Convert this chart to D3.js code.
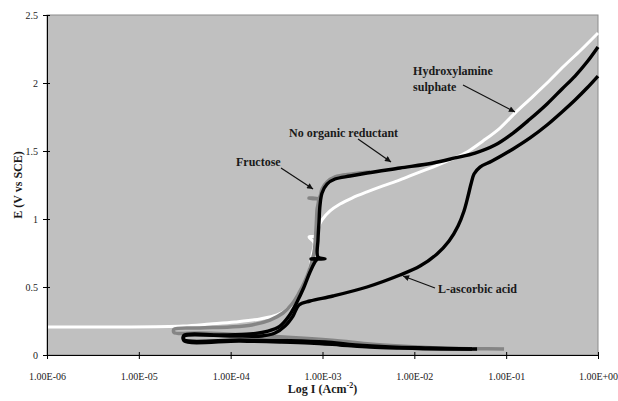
<!DOCTYPE html>
<html>
<head>
<meta charset="utf-8">
<script src="https://cdn.jsdelivr.net/npm/d3@7"></script>
<style>
  html, body { margin: 0; padding: 0; background: #fff; }
  svg { display: block; }
  text { font-family: "Liberation Serif", "Times New Roman", serif; }
</style>
</head>
<body>
<svg id="chart" width="618" height="401"></svg>
<script>
// Polarisation curves: E (V vs SCE) against log10 of current density (A cm^-2)
// Each point is [log10 I, E]; sweep runs from the cathodic end through E_corr to the anodic end.

const xTicks = [-6, -5, -4, -3, -2, -1, 0];
const xTickLabels = ["1.00E-06", "1.00E-05", "1.00E-04", "1.00E-03", "1.00E-02", "1.00E-01", "1.00E+00"];
const yTicks = [0, 0.5, 1, 1.5, 2, 2.5];
const yTickLabels = ["0", "0.5", "1", "1.5", "2", "2.5"];

const hydroxylamine = [
  [-6.000, 0.206], [-5.205, 0.206], [-4.519, 0.213], [-4.225, 0.228], [-3.953, 0.243],
  [-3.680, 0.265], [-3.495, 0.294], [-3.365, 0.346], [-3.278, 0.412], [-3.201, 0.500],
  [-3.147, 0.610], [-3.114, 0.735], [-3.092, 0.824], [-3.147, 0.868], [-3.082, 0.875],
  [-3.049, 0.934], [-3.005, 0.993], [-2.918, 1.059], [-2.809, 1.110], [-2.679, 1.154],
  [-2.515, 1.199], [-2.341, 1.243], [-2.156, 1.287], [-1.971, 1.338], [-1.797, 1.382],
  [-1.611, 1.434], [-1.426, 1.493], [-1.252, 1.574], [-1.067, 1.669], [-0.904, 1.779],
  [-0.740, 1.882], [-0.555, 2.000], [-0.370, 2.125], [-0.185, 2.243], [0.000, 2.368]
];

const fructose = [
  [-1.023, 0.044], [-1.317, 0.046], [-1.720, 0.051], [-2.156, 0.066], [-2.483, 0.081],
  [-2.809, 0.103], [-3.245, 0.125], [-3.789, 0.147], [-4.334, 0.162], [-4.617, 0.165],
  [-4.617, 0.189], [-4.334, 0.199], [-4.007, 0.206], [-3.768, 0.221], [-3.572, 0.257],
  [-3.430, 0.309], [-3.332, 0.375], [-3.256, 0.456], [-3.190, 0.544], [-3.136, 0.640],
  [-3.092, 0.757], [-3.071, 0.919], [-3.060, 1.066], [-3.049, 1.147], [-3.147, 1.154],
  [-3.038, 1.154], [-3.005, 1.221], [-2.951, 1.272], [-2.864, 1.309], [-2.679, 1.331],
  [-2.483, 1.346]
];

const noReductant = [
  [-1.317, 0.044], [-1.720, 0.044], [-2.156, 0.051], [-2.483, 0.059], [-2.809, 0.074],
  [-3.136, 0.088], [-3.463, 0.096], [-3.898, 0.103], [-4.508, 0.105], [-4.508, 0.145],
  [-4.116, 0.147], [-3.789, 0.154], [-3.593, 0.176], [-3.463, 0.213], [-3.365, 0.287],
  [-3.278, 0.390], [-3.201, 0.500], [-3.136, 0.610], [-3.082, 0.684], [-3.060, 0.706],
  [-3.125, 0.706], [-2.973, 0.706], [-3.049, 0.721], [-3.049, 0.846], [-3.038, 0.978],
  [-3.027, 1.103], [-3.005, 1.191], [-2.951, 1.257], [-2.864, 1.294], [-2.700, 1.316],
  [-2.515, 1.338], [-2.156, 1.375], [-1.797, 1.412], [-1.557, 1.449], [-1.339, 1.485],
  [-1.121, 1.544], [-0.925, 1.632], [-0.740, 1.735], [-0.555, 1.846], [-0.392, 1.956],
  [-0.250, 2.051], [-0.120, 2.154], [0.000, 2.265]
];

const ascorbic = [
  [-1.372, 0.044], [-1.829, 0.051], [-2.265, 0.059], [-2.646, 0.074], [-2.973, 0.096],
  [-3.354, 0.106], [-3.898, 0.110], [-4.508, 0.112], [-4.508, 0.138], [-4.007, 0.140],
  [-3.659, 0.140], [-3.517, 0.162], [-3.408, 0.213], [-3.321, 0.287], [-3.256, 0.368],
  [-3.136, 0.397], [-2.886, 0.434], [-2.515, 0.500], [-2.156, 0.588], [-1.938, 0.654],
  [-1.753, 0.743], [-1.622, 0.838], [-1.524, 0.949], [-1.459, 1.059], [-1.415, 1.169],
  [-1.383, 1.257], [-1.350, 1.331], [-1.285, 1.382], [-1.154, 1.426], [-0.925, 1.515],
  [-0.740, 1.596], [-0.555, 1.691], [-0.392, 1.787], [-0.250, 1.875], [-0.120, 1.963],
  [0.000, 2.051]
];

// Callout labels: text lines, text anchor point and arrow (tail -> head), all in data units
const labelText = [["Hydroxylamine", "sulphate"], ["No organic reductant"], ["Fructose"], ["L-ascorbic acid"]];
const labelAt = [[-2.014, 2.059], [-3.365, 1.603], [-3.942, 1.390], [-1.742, 0.456]];
const arrowFrom = [[-1.470, 1.985], [-2.613, 1.588], [-3.452, 1.375], [-1.775, 0.493]];
const arrowTo = [[-0.904, 1.787], [-2.254, 1.419], [-3.103, 1.221], [-2.123, 0.581]];

const series = [
  { data: hydroxylamine, color: "#ffffff", width: 3 },
  { data: fructose, color: "#858585", width: 3.5 },
  { data: noReductant, color: "#000000", width: 3.4 },
  { data: ascorbic, color: "#000000", width: 3.4 }
];

const plotLeft = 47, plotRight = 598, plotTop = 15, plotBottom = 355;
const x = d3.scaleLinear().domain([-6, 0]).range([plotLeft, plotRight]);
const y = d3.scaleLinear().domain([0, 2.5]).range([plotBottom, plotTop]);

const svg = d3.select("#chart");

svg.append("defs").append("marker")
  .attr("id", "head")
  .attr("viewBox", "0 0 10 10")
  .attr("refX", 10).attr("refY", 5)
  .attr("markerWidth", 7).attr("markerHeight", 6)
  .attr("markerUnits", "userSpaceOnUse")
  .attr("orient", "auto")
  .append("path").attr("d", "M0,0 L10,5 L0,10 z").attr("fill", "#111");

// plot area
svg.append("rect")
  .attr("x", plotLeft).attr("y", plotTop)
  .attr("width", plotRight - plotLeft).attr("height", plotBottom - plotTop)
  .attr("fill", "#c0c0c0")
  .attr("stroke", "#8c8c8c").attr("stroke-width", 1);

const plot = svg.append("g");
const line = d3.line()
  .x(d => x(d[0]))
  .y(d => y(d[1]))
  .curve(d3.curveCatmullRom.alpha(0.5));

series.forEach(s => {
  plot.append("path")
    .attr("d", line(s.data))
    .attr("fill", "none")
    .attr("stroke", s.color)
    .attr("stroke-width", s.width)
    .attr("stroke-linejoin", "round")
    .attr("stroke-linecap", "butt");
});

// axes
const xAxis = svg.append("g")
  .attr("transform", `translate(0,${plotBottom})`)
  .call(d3.axisBottom(x).tickValues(xTicks).tickFormat((d, i) => xTickLabels[i]).tickSizeInner(4).tickSizeOuter(0).tickPadding(14));
xAxis.select(".domain").attr("stroke", "#000").attr("stroke-width", 1);
xAxis.selectAll(".tick line").attr("y1", -3).attr("stroke", "#000");
xAxis.selectAll(".tick text").attr("font-size", 10).attr("fill", "#222")
  .attr("font-family", "'Liberation Serif', 'Times New Roman', serif");

const yAxis = svg.append("g")
  .attr("transform", `translate(${plotLeft},0)`)
  .call(d3.axisLeft(y).tickValues(yTicks).tickFormat((d, i) => yTickLabels[i]).tickSizeInner(4).tickSizeOuter(0).tickPadding(5));
yAxis.select(".domain").attr("stroke", "#000").attr("stroke-width", 1);
yAxis.selectAll(".tick line").attr("x1", 3).attr("stroke", "#000");
yAxis.selectAll(".tick text").attr("font-size", 10).attr("fill", "#222")
  .attr("font-family", "'Liberation Serif', 'Times New Roman', serif");

// axis titles
const xt = svg.append("text")
  .attr("x", (plotLeft + plotRight) / 2).attr("y", 393)
  .attr("text-anchor", "middle")
  .attr("font-size", 12).attr("font-weight", "bold").attr("fill", "#1a1a1a");
xt.append("tspan").text("Log I (Acm");
xt.append("tspan").attr("font-size", 8).attr("dy", -5).text("-2");
xt.append("tspan").attr("dy", 5).text(")");

svg.append("text")
  .attr("transform", `translate(22,${(plotTop + plotBottom) / 2}) rotate(-90)`)
  .attr("text-anchor", "middle")
  .attr("font-size", 12).attr("font-weight", "bold").attr("fill", "#1a1a1a")
  .text("E (V vs SCE)");

// callouts
labelText.forEach((lines, i) => {
  const t = svg.append("text")
    .attr("x", x(labelAt[i][0])).attr("y", y(labelAt[i][1]))
    .attr("font-size", 12).attr("font-weight", "bold").attr("fill", "#1a1a1a");
  lines.forEach((s, j) => {
    t.append("tspan").attr("x", x(labelAt[i][0])).attr("dy", j === 0 ? 0 : 16).text(s);
  });
  svg.append("line")
    .attr("x1", x(arrowFrom[i][0])).attr("y1", y(arrowFrom[i][1]))
    .attr("x2", x(arrowTo[i][0])).attr("y2", y(arrowTo[i][1]))
    .attr("stroke", "#111").attr("stroke-width", 1.2)
    .attr("marker-end", "url(#head)");
});
</script>
</body>
</html>
